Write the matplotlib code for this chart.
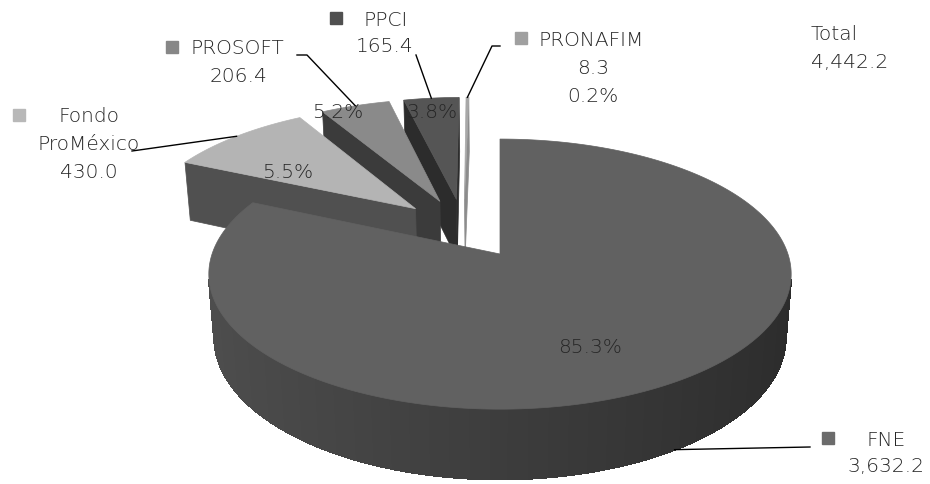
import numpy as np
import matplotlib.pyplot as plt
from matplotlib.patches import Polygon, Rectangle

# datos (millones de pesos)
names = ['FNE', 'Fondo ProMéxico', 'PROSOFT', 'PPCI', 'PRONAFIM']
values = [3632.2, 430.0, 206.4, 165.4, 8.3]
pct_labels = ['85.3%', '5.5%', '5.2%', '3.8%', '0.2%']
total_value = 4442.2

top_colors = ['#616161', '#b4b4b4', '#8a8a8a', '#555555', '#a8a8a8']
side_colors = ['#3a3a3a', '#505050', '#3b3b3b', '#2c2c2c', '#8c8c8c']
key_colors = ['#6b6b6b', '#b8b8b8', '#878787', '#505050', '#a0a0a0']

# geometria de la vista 3D
elev = np.radians(27.3)
dist = 5.97
focal = 1719.0
explode = 0.24
thick = 0.25
cx, cy = 500, 255
c, s = np.cos(elev), np.sin(elev)

total = sum(values)
angles = []
a = 90.0
for v in values:
    a2 = a - v / total * 360.0
    angles.append((a2, a))
    a = a2
mids = [np.radians((a1 + a2) / 2) for a1, a2 in angles]
offsets = [(explode * np.cos(m), explode * np.sin(m)) for m in mids]

target = np.array([offsets[0][0], offsets[0][1], 0.0])
cam = target + dist * np.array([0.0, -c, s])


def depth(x, y, z):
    return (y - cam[1]) * c - (z - cam[2]) * s


def project(x, y, z):
    px, py, pz = x - cam[0], y - cam[1], z - cam[2]
    d = py * c - pz * s
    u = py * s + pz * c
    return cx + focal * px / d, cy - focal * u / d


def visible(nx, ny, px, py, pz):
    return nx * (cam[0] - px) + ny * (cam[1] - py) > 0


def mix(c1, c2, t):
    a1 = np.array([int(c1[i:i + 2], 16) for i in (1, 3, 5)]) / 255
    a2 = np.array([int(c2[i:i + 2], 16) for i in (1, 3, 5)]) / 255
    return tuple(a1 + (a2 - a1) * t)


fig = plt.figure(figsize=(9.3, 4.85), dpi=100)
ax = fig.add_axes([0, 0, 1, 1])
ax.set_xlim(0, 930)
ax.set_ylim(485, 0)
ax.axis('off')

# orden de pintado: de atras hacia adelante
order = sorted(range(len(values)),
               key=lambda i: -depth(offsets[i][0] + 0.6 * np.cos(mids[i]),
                                    offsets[i][1] + 0.6 * np.sin(mids[i]), 0))

for i in order:
    ox, oy = offsets[i]
    a2, a1 = angles[i]
    th = np.radians(np.linspace(a2, a1, max(4, int((a1 - a2) * 2))))

    # caras radiales
    for ang, sign in ((np.radians(a2), -1), (np.radians(a1), 1)):
        nx, ny = np.cos(ang + sign * np.pi / 2), np.sin(ang + sign * np.pi / 2)
        ex, ey = ox + np.cos(ang), oy + np.sin(ang)
        if visible(nx, ny, (ox + ex) / 2, (oy + ey) / 2, -thick / 2):
            pts = [project(ox, oy, 0), project(ex, ey, 0),
                   project(ex, ey, -thick), project(ox, oy, -thick)]
            ax.add_patch(Polygon(pts, closed=True, facecolor=side_colors[i],
                                 edgecolor=side_colors[i], lw=0.5))

    # pared exterior: base lisa y luego sombreado por segmentos
    vis = [k for k in range(len(th) - 1)
           if visible(np.cos((th[k] + th[k + 1]) / 2), np.sin((th[k] + th[k + 1]) / 2),
                      ox + np.cos(th[k]), oy + np.sin(th[k]), 0)]
    if vis:
        tv = th[vis[0]:vis[-1] + 2]
        upper = [project(ox + np.cos(t), oy + np.sin(t), 0) for t in tv]
        lower = [project(ox + np.cos(t), oy + np.sin(t), -thick) for t in tv[::-1]]
        ax.add_patch(Polygon(upper + lower, closed=True, facecolor='#3c3c3c',
                             edgecolor='#3c3c3c', lw=0.5))
        for k in vis:
            tm = (th[k] + th[k + 1]) / 2
            col = mix('#4e4e4e', '#2c2c2c', (np.cos(tm) + 1) / 2)
            p1 = (ox + np.cos(th[k]), oy + np.sin(th[k]))
            p2 = (ox + np.cos(th[k + 1]), oy + np.sin(th[k + 1]))
            pts = [project(p1[0], p1[1], 0), project(p2[0], p2[1], 0),
                   project(p2[0], p2[1], -thick), project(p1[0], p1[1], -thick)]
            ax.add_patch(Polygon(pts, closed=True, facecolor=col, edgecolor=col,
                                 lw=1.0, antialiased=False))

    # cara superior
    pts = [project(ox, oy, 0)] + [project(ox + np.cos(t), oy + np.sin(t), 0) for t in th]
    ax.add_patch(Polygon(pts, closed=True, facecolor=top_colors[i],
                         edgecolor=top_colors[i], lw=0.5))

txt = dict(fontsize=14.5, color='#262626', family='DejaVu Sans', fontweight='light')

# porcentajes dentro de las rebanadas
pct_pos = [(590, 348), (288, 173), (338, 113), (432, 113), None]
for i, pos in enumerate(pct_pos):
    if pos:
        ax.text(pos[0], pos[1], pct_labels[i], ha='center', va='center', **txt)

# etiquetas con clave de leyenda y linea guia
def anchor(i, z=0.0):
    m = mids[i]
    return project(offsets[i][0] + np.cos(m), offsets[i][1] + np.sin(m), z)

# FNE
ax.add_patch(Rectangle((822, 433), 12, 12, color=key_colors[0]))
ax.text(886, 441, names[0], ha='center', va='center', **txt)
ax.text(886, 467, f'{values[0]:,.1f}', ha='center', va='center', **txt)
p = anchor(0, -thick)
ax.plot([810, p[0]], [448, p[1]], color='black', lw=1)

# Fondo ProMéxico
ax.add_patch(Rectangle((13, 110), 12, 12, color=key_colors[1]))
ax.text(89, 117, 'Fondo', ha='center', va='center', **txt)
ax.text(89, 145, 'ProMéxico', ha='center', va='center', **txt)
ax.text(89, 173, f'{values[1]:,.1f}', ha='center', va='center', **txt)
p = anchor(1)
ax.plot([132, p[0]], [152, p[1]], color='black', lw=1)

# PROSOFT
ax.add_patch(Rectangle((166, 42), 12, 12, color=key_colors[2]))
ax.text(190, 49, names[2], ha='left', va='center', **txt)
ax.text(238, 76, f'{values[2]:,.1f}', ha='center', va='center', **txt)
p = anchor(2)
ax.plot([297, 307, p[0]], [56, 56, p[1]], color='black', lw=1)

# PPCI
ax.add_patch(Rectangle((330, 13), 12, 12, color=key_colors[3]))
ax.text(363, 20, names[3], ha='left', va='center', **txt)
ax.text(385, 47, f'{values[3]:,.1f}', ha='center', va='center', **txt)
p = anchor(3)
ax.plot([416, p[0]], [56, p[1]], color='black', lw=1)

# PRONAFIM
ax.add_patch(Rectangle((515, 33), 12, 12, color=key_colors[4]))
ax.text(538, 40, names[4], ha='left', va='center', **txt)
ax.text(593, 68, f'{values[4]:,.1f}', ha='center', va='center', **txt)
ax.text(593, 97, pct_labels[4], ha='center', va='center', **txt)
p = anchor(4)
ax.plot([p[0], 492, 500], [p[1], 47, 47], color='black', lw=1)

# total
ax.text(811, 35, 'Total', ha='left', va='center', **txt)
ax.text(811, 63, f'{total_value:,.1f}', ha='left', va='center', **txt)

fig.savefig('out.png', dpi=100, facecolor='white')
